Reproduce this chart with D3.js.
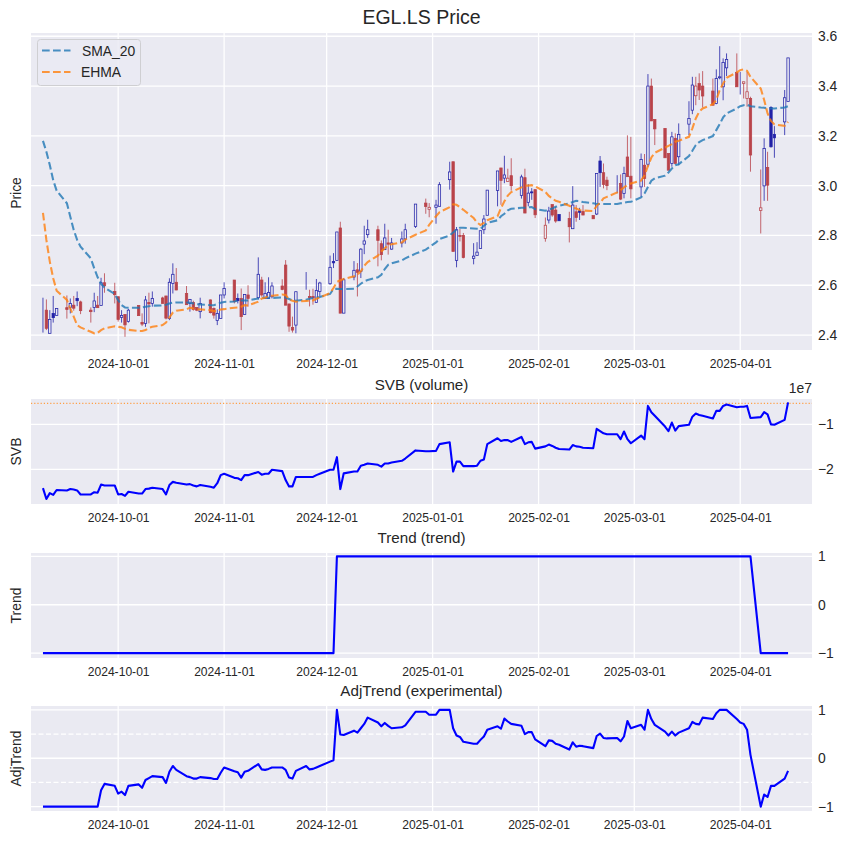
<!DOCTYPE html>
<html><head><meta charset="utf-8">
<style>html,body{margin:0;padding:0;background:#fff}svg{display:block}text{font-family:"Liberation Sans",Arial,sans-serif}</style>
<script src="https://cdn.jsdelivr.net/npm/d3@7/dist/d3.min.js"></script>
</head><body>
<script>
const holidays = ["2024-12-25","2024-12-26","2025-01-01"];
const firstDay = "2024-09-09", lastDay = "2025-04-15";
const monthTicks = ["2024-10-01","2024-11-01","2024-12-01","2025-01-01","2025-02-01","2025-03-01","2025-04-01"];

const opens = [2.50,2.50,2.407,2.487,2.479,2.51,2.511,2.52,2.547,2.533,2.50,2.511,2.52,2.519,2.61,2.575,2.554,2.471,2.483,2.454,
2.519,2.451,2.447,2.531,2.527,2.549,2.557,2.467,2.607,2.612,2.567,2.527,2.531,2.511,2.494,2.541,2.507,2.458,2.467,2.561,
2.621,2.547,2.547,2.483,2.561,2.55,2.621,2.547,2.547,2.554,2.597,2.681,2.525,2.43,2.44,2.595,2.555,2.555,2.531,2.575,
2.606,2.695,2.70,2.83,2.488,2.633,2.662,2.656,2.765,2.803,2.823,2.767,2.743,2.77,2.745,2.77,2.786,2.836,2.93,2.905,
2.913,2.917,3.024,3.096,2.70,2.80,2.80,2.708,2.72,2.748,2.823,2.881,2.981,3.071,3.03,3.017,3.04,2.961,3.032,2.933,2.975,2.984,
2.788,2.862,2.924,2.902,2.884,2.868,2.827,2.895,2.899,2.896,2.88,2.886,3.099,3.052,3.022,3.009,3.009,2.969,3.115,3.038,
2.995,3.082,3.086,3.40,3.266,3.23,3.129,3.089,3.19,3.116,3.247,3.303,3.361,3.41,3.40,3.38,3.33,3.433,3.397,3.473,
3.455,3.421,3.41,3.35,3.35,2.90,2.999,3.073,3.314,3.206,3.256,3.338];
const highs = [2.55,2.543,2.50,2.557,2.507,2.559,2.547,2.557,2.575,2.538,2.511,2.57,2.557,2.63,2.648,2.61,2.554,2.50,2.483,2.505,
2.519,2.487,2.557,2.57,2.575,2.554,2.557,2.628,2.688,2.669,2.597,2.545,2.538,2.511,2.55,2.543,2.511,2.503,2.561,2.612,
2.621,2.567,2.587,2.563,2.60,2.712,2.634,2.612,2.632,2.612,2.624,2.701,2.525,2.474,2.574,2.653,2.582,2.586,2.625,2.614,
2.719,2.729,2.814,2.855,2.629,2.697,2.689,2.749,2.839,2.863,2.839,2.78,2.847,2.823,2.79,2.816,2.847,2.926,2.948,2.93,
2.943,3.014,3.096,3.096,2.834,2.826,2.81,2.769,2.773,2.819,2.882,2.982,3.059,3.071,3.12,3.068,3.11,3.044,3.068,3.006,2.99,2.984,
2.872,2.915,2.924,2.915,2.884,2.895,2.998,2.922,2.911,2.922,2.88,3.049,3.119,3.089,3.036,3.042,3.045,3.076,3.202,3.196,
3.129,3.127,3.448,3.43,3.266,3.23,3.129,3.216,3.21,3.25,3.339,3.437,3.437,3.451,3.46,3.43,3.467,3.56,3.511,3.531,
3.531,3.457,3.417,3.457,3.357,3.065,3.19,3.136,3.319,3.239,3.384,3.513];
const lows = [2.41,2.42,2.407,2.45,2.479,2.466,2.487,2.498,2.516,2.484,2.45,2.492,2.51,2.519,2.57,2.527,2.454,2.45,2.393,2.45,
2.478,2.436,2.433,2.447,2.514,2.527,2.463,2.46,2.567,2.58,2.522,2.494,2.498,2.496,2.467,2.487,2.466,2.44,2.467,2.547,
2.527,2.527,2.42,2.483,2.514,2.543,2.554,2.547,2.547,2.547,2.58,2.52,2.413,2.41,2.407,2.582,2.515,2.522,2.531,2.555,
2.602,2.669,2.70,2.488,2.488,2.62,2.555,2.629,2.725,2.79,2.676,2.70,2.743,2.723,2.743,2.752,2.767,2.83,2.887,2.873,
2.847,2.917,2.984,2.736,2.672,2.776,2.708,2.684,2.72,2.748,2.806,2.881,2.917,2.923,3.01,3.017,2.98,2.948,2.89,2.917,2.943,2.87,
2.775,2.848,2.875,2.851,2.859,2.772,2.827,2.855,2.862,2.882,2.867,2.882,2.995,2.989,2.982,2.969,2.942,2.949,3.036,2.949,
2.955,2.995,3.076,3.26,3.163,3.112,3.062,3.076,3.089,3.082,3.203,3.287,3.323,3.344,3.314,3.323,3.327,3.427,3.343,3.44,
3.397,3.366,3.35,3.317,3.056,2.808,2.939,2.939,3.153,3.112,3.203,3.338];
const closes = [2.50,2.427,2.463,2.47,2.507,2.503,2.527,2.508,2.538,2.498,2.494,2.537,2.51,2.61,2.598,2.562,2.463,2.479,2.441,2.50,
2.478,2.444,2.541,2.525,2.547,2.527,2.468,2.612,2.644,2.581,2.522,2.543,2.503,2.50,2.527,2.49,2.48,2.487,2.561,2.587,
2.534,2.538,2.474,2.563,2.547,2.644,2.561,2.567,2.571,2.597,2.583,2.52,2.436,2.42,2.574,2.595,2.55,2.549,2.579,2.609,
2.672,2.69,2.814,2.488,2.622,2.66,2.652,2.745,2.778,2.823,2.78,2.723,2.79,2.765,2.77,2.786,2.823,2.926,2.916,2.913,
2.922,3.004,3.055,2.736,2.823,2.796,2.711,2.717,2.733,2.819,2.866,2.982,3.059,3.021,3.043,3.03,3.0,3.035,2.89,2.97,2.971,2.883,
2.841,2.898,2.882,2.858,2.859,2.835,2.922,2.872,2.893,2.882,2.867,3.049,3.052,3.005,3.0,3.009,2.946,3.049,3.036,2.987,
3.105,3.029,3.40,3.26,3.228,3.112,3.062,3.196,3.089,3.206,3.27,3.404,3.40,3.384,3.36,3.323,3.43,3.437,3.495,3.507,
3.397,3.421,3.417,3.377,3.123,2.911,3.149,3.002,3.156,3.192,3.353,3.513];

const sma20 = [3.18,3.136,3.083,3.022,2.98,2.929,2.875,2.822,2.782,2.755,2.708,2.668,2.632,2.605,2.591,2.565,2.54,2.52,2.511,2.51,
2.51,2.511,2.514,2.516,2.518,2.519,2.522,2.527,2.53,2.531,2.531,2.53,2.527,2.524,2.523,2.52,2.52,2.524,2.53,2.533,
2.535,2.538,2.539,2.539,2.539,2.547,2.549,2.55,2.55,2.549,2.551,2.551,2.545,2.539,2.538,2.542,2.546,2.549,2.551,2.553,
2.565,2.585,2.586,2.585,2.585,2.586,2.595,2.606,2.616,2.621,2.632,2.642,2.665,2.682,2.688,2.70,2.708,2.727,2.743,2.753,
2.772,2.786,2.80,2.812,2.824,2.831,2.831,2.828,2.827,2.826,2.839,2.85,2.861,2.877,2.887,2.901,2.907,2.911,2.911,2.913,2.914,2.906,
2.899,2.904,2.908,2.915,2.919,2.929,2.934,2.939,2.938,2.934,2.929,2.926,2.926,2.926,2.926,2.926,2.929,2.931,2.934,2.935,
2.953,2.969,2.995,3.02,3.029,3.04,3.053,3.069,3.082,3.086,3.119,3.14,3.163,3.175,3.183,3.199,3.223,3.247,3.274,3.29,
3.31,3.319,3.323,3.325,3.319,3.314,3.313,3.31,3.31,3.31,3.314,3.319];
const ehma = [2.891,2.782,2.695,2.628,2.578,2.541,2.507,2.474,2.44,2.431,2.413,2.407,2.409,2.42,2.427,2.435,2.433,2.431,2.425,2.421,
2.416,2.416,2.42,2.429,2.433,2.44,2.45,2.471,2.49,2.498,2.503,2.51,2.507,2.503,2.503,2.50,2.496,2.496,2.503,2.504,
2.51,2.511,2.514,2.52,2.519,2.534,2.547,2.55,2.557,2.558,2.563,2.561,2.543,2.538,2.534,2.537,2.538,2.539,2.546,2.55,
2.569,2.589,2.613,2.62,2.625,2.636,2.642,2.656,2.678,2.693,2.719,2.736,2.749,2.761,2.765,2.772,2.783,2.803,2.82,2.843,
2.877,2.893,2.914,2.925,2.923,2.913,2.903,2.87,2.852,2.842,2.85,2.861,2.877,2.91,2.937,2.96,2.974,2.993,3.0,3.0,3.002,2.997,
2.975,2.959,2.949,2.939,2.935,2.919,2.912,2.908,2.902,2.90,2.898,2.919,2.931,2.949,2.955,2.973,2.982,2.993,3.002,3.009,
3.02,3.042,3.078,3.113,3.132,3.153,3.16,3.167,3.176,3.18,3.196,3.23,3.27,3.297,3.31,3.327,3.344,3.384,3.41,3.433,
3.455,3.464,3.467,3.461,3.437,3.39,3.344,3.29,3.26,3.246,3.24,3.256];

const svb = [-2.42,-2.66,-2.53,-2.57,-2.46,-2.47,-2.44,-2.45,-2.47,-2.56,-2.56,-2.51,-2.52,-2.34,-2.36,-2.36,-2.56,-2.55,-2.59,-2.50,
-2.54,-2.54,-2.44,-2.43,-2.41,-2.44,-2.56,-2.35,-2.28,-2.30,-2.34,-2.33,-2.36,-2.38,-2.35,-2.39,-2.41,-2.31,-2.13,-2.10,
-2.19,-2.20,-2.24,-2.13,-2.13,-2.06,-2.12,-2.10,-2.10,-2.01,-2.04,-2.24,-2.38,-2.38,-2.17,-2.17,-2.17,-2.17,-2.13,-2.10,
-2.01,-2.01,-1.73,-2.44,-2.09,-2.05,-2.05,-1.92,-1.90,-1.87,-1.90,-1.94,-1.87,-1.87,-1.85,-1.81,-1.76,-1.58,-1.60,-1.60,
-1.59,-1.44,-1.40,-2.05,-1.83,-1.83,-1.93,-1.93,-1.92,-1.81,-1.78,-1.44,-1.31,-1.37,-1.35,-1.35,-1.39,-1.28,-1.44,-1.40,-1.39,-1.54,
-1.49,-1.45,-1.48,-1.52,-1.55,-1.56,-1.46,-1.49,-1.50,-1.52,-1.53,-1.10,-1.15,-1.20,-1.22,-1.22,-1.33,-1.16,-1.33,-1.42,
-1.25,-1.33,-0.59,-0.73,-0.81,-1.05,-1.15,-0.96,-1.14,-1.04,-1.01,-0.83,-0.76,-0.79,-0.81,-0.87,-0.70,-0.70,-0.59,-0.56,
-0.62,-0.61,-0.61,-0.59,-0.86,-0.84,-0.73,-0.78,-1.00,-1.01,-0.90,-0.51];
const svbLevel = [-0.533];

const trend = [-1,-1,-1,-1,-1,-1,-1,-1,-1,-1,-1,-1,-1,-1,-1,-1,-1,-1,-1,-1,
-1,-1,-1,-1,-1,-1,-1,-1,-1,-1,-1,-1,-1,-1,-1,-1,-1,-1,-1,-1,
-1,-1,-1,-1,-1,-1,-1,-1,-1,-1,-1,-1,-1,-1,-1,-1,-1,-1,-1,-1,
-1,-1,1,1,1,1,1,1,1,1,1,1,1,1,1,1,1,1,1,1,
1,1,1,1,1,1,1,1,1,1,1,1,1,1,1,1,1,1,1,1,1,1,
1,1,1,1,1,1,1,1,1,1,1,1,1,1,1,1,1,1,1,1,
1,1,1,1,1,1,1,1,1,1,1,1,1,1,1,1,1,1,1,1,
1,1,1,1,1,-1,-1,-1,-1,-1,-1,-1];

const adjTrend = [-1,-1,-1,-1,-1,-1,-1,-1,-1,-1,-1,-1,-1,-0.66,-0.53,-0.57,-0.73,-0.69,-0.76,-0.57,
-0.54,-0.61,-0.45,-0.41,-0.37,-0.39,-0.51,-0.28,-0.16,-0.24,-0.37,-0.39,-0.42,-0.42,-0.39,-0.41,-0.43,-0.43,-0.30,-0.19,
-0.27,-0.29,-0.40,-0.28,-0.26,-0.12,-0.23,-0.24,-0.22,-0.19,-0.19,-0.24,-0.40,-0.42,-0.26,-0.16,-0.23,-0.22,-0.19,-0.16,
-0.07,-0.04,1.0,0.49,0.48,0.57,0.53,0.62,0.71,0.84,0.74,0.66,0.73,0.67,0.62,0.64,0.68,0.96,0.96,0.90,
0.90,1.0,1.0,0.62,0.47,0.44,0.34,0.30,0.30,0.38,0.45,0.59,0.66,0.61,0.82,0.76,0.71,0.67,0.50,0.54,0.54,0.39,
0.25,0.37,0.36,0.30,0.28,0.18,0.33,0.24,0.26,0.25,0.21,0.46,0.51,0.42,0.41,0.42,0.35,0.45,0.77,0.62,
0.69,0.59,1.0,0.81,0.69,0.55,0.47,0.55,0.47,0.53,0.62,0.75,0.71,0.70,0.84,0.81,0.93,1.0,1.0,1.0,
0.81,0.74,0.71,0.59,0.07,-1.0,-0.75,-0.80,-0.57,-0.57,-0.42,-0.26];

const priceTicks = [2.4,2.6,2.8,3.0,3.2,3.4,3.6];
const svbTicks = [-2,-1];
const unitTicks = [-1,0,1];
const adjLevels = [-0.5,0.5];
const legendLabels = ["SMA_20","EHMA"];

const parse = d3.utcParse("%Y-%m-%d");
const dates = d3.utcDay.range(parse(firstDay), d3.utcDay.offset(parse(lastDay),1))
  .filter(d => d.getUTCDay()%6!==0 && !holidays.includes(d3.utcFormat("%Y-%m-%d")(d)));

const W=846,H=843,L=31,R=812;
const bg="#EAEAF2",ink="#262626",lineBlue="#0000ff";
const upCol="#2222a8",dnCol="#b9434a",smaCol="#1f77b4",ehCol="#ff7f0e";
const dashPattern="7.7 3.3";

const x=d3.scaleUtc().domain([new Date(Date.UTC(2024,8,5,12)),new Date(Date.UTC(2025,3,22))]).range([L,R]);
const svg=d3.select("body").append("svg").attr("width",W).attr("height",H).attr("viewBox",`0 0 ${W} ${H}`);
const fmtNum=d3.format(".1f");
const fmtInt=d=>String(d).replace("-","\u2212");
const fontStack='"Liberation Sans",Arial,sans-serif';

function panel(o){
  const g=svg.append("g");
  g.append("rect").attr("x",L).attr("y",o.top).attr("width",R-L).attr("height",o.bottom-o.top).attr("fill",bg);
  const y=d3.scaleLinear().domain(o.domain).range([o.bottom,o.top]);
  g.selectAll("line.vg").data(monthTicks).join("line").attr("class","vg")
    .attr("x1",d=>x(parse(d))).attr("x2",d=>x(parse(d))).attr("y1",o.top).attr("y2",o.bottom)
    .attr("stroke","#fff").attr("stroke-width",1.3);
  g.selectAll("line.hg").data(o.ticks).join("line").attr("class","hg")
    .attr("x1",L).attr("x2",R).attr("y1",d=>y(d)).attr("y2",d=>y(d))
    .attr("stroke","#fff").attr("stroke-width",1.3);
  const xa=g.append("g").attr("transform",`translate(0,${o.bottom})`)
    .call(d3.axisBottom(x).tickValues(monthTicks.map(parse)).tickFormat(d3.utcFormat("%Y-%m-%d")).tickSize(0).tickPadding(9.5));
  xa.select(".domain").remove();
  xa.selectAll("text").attr("font-size",12.1).attr("fill",ink).attr("font-family",fontStack);
  const ya=g.append("g").attr("transform",`translate(${R},0)`)
    .call(d3.axisRight(y).tickValues(o.ticks).tickFormat(o.fmt).tickSize(0).tickPadding(6));
  ya.select(".domain").remove();
  ya.selectAll("text").attr("font-size",13.9).attr("fill",ink).attr("font-family",fontStack);
  g.append("text").attr("transform",`translate(20.5,${(o.top+o.bottom)/2+(o.labelDy||0)}) rotate(-90)`)
    .attr("text-anchor","middle").attr("font-size",13.9).attr("fill",ink).text(o.label);
  g.append("text").attr("x",(L+R)/2).attr("y",o.top-o.titleGap).attr("text-anchor","middle")
    .attr("font-size",o.titleSize).attr("fill",ink).text(o.title);
  const inner=g.append("g");
  return {y,inner};
}
function blueLine(p,vals){
  const line=d3.line().x((d,i)=>x(dates[i])).y(d=>p.y(d));
  p.inner.append("path").attr("d",line(vals)).attr("fill","none").attr("stroke",lineBlue)
    .attr("stroke-width",2.1).attr("stroke-linejoin","round").attr("stroke-linecap","butt");
}

// Price
const pPrice=panel({top:33,bottom:350,domain:[2.34,3.613],ticks:priceTicks,fmt:fmtNum,label:"Price",labelDy:1.5,
  title:"EGL.LS Price",titleGap:9.5,titleSize:19.5});
const rows=dates.map((d,i)=>({d,o:opens[i],h:highs[i],l:lows[i],c:closes[i],prev:i?closes[i-1]:closes[i]}));
const col=r=>r.c>=r.prev?upCol:dnCol;
const cg=pPrice.inner.selectAll("g.c").data(rows).join("g").attr("class","c");
cg.append("line").attr("x1",r=>x(r.d)).attr("x2",r=>x(r.d)).attr("y1",r=>pPrice.y(r.h)).attr("y2",r=>pPrice.y(r.l))
  .attr("stroke",col).attr("stroke-width",0.8);
cg.append("rect").attr("x",r=>x(r.d)-1.2).attr("width",2.4)
  .attr("y",r=>pPrice.y(Math.max(r.o,r.c))).attr("height",r=>Math.abs(pPrice.y(r.o)-pPrice.y(r.c)))
  .attr("fill",r=>r.c>r.o?bg:col(r)).attr("stroke",col).attr("stroke-width",0.75);
const lp=d3.line().x((d,i)=>x(dates[i])).y(d=>pPrice.y(d));
[[sma20,smaCol],[ehma,ehCol]].forEach(([v,c])=>{
  pPrice.inner.append("path").attr("d",lp(v)).attr("fill","none").attr("stroke",c).attr("stroke-opacity",.8)
    .attr("stroke-width",2.08).attr("stroke-dasharray",dashPattern);
});
// Legend
const lg=svg.append("g");
lg.append("rect").attr("x",37.5).attr("y",39.5).attr("width",103).attr("height",46).attr("rx",3)
  .attr("fill",bg).attr("fill-opacity",.8).attr("stroke","#cfcfd2").attr("stroke-width",1);
legendLabels.forEach((t,i)=>{
  const yy=50.5+i*21.5;
  lg.append("line").attr("x1",42).attr("x2",70.5).attr("y1",yy).attr("y2",yy)
    .attr("stroke",[smaCol,ehCol][i]).attr("stroke-opacity",.8).attr("stroke-width",2.08).attr("stroke-dasharray",dashPattern);
  lg.append("text").attr("x",i?81:82).attr("y",yy+5).attr("font-size",13.9).attr("fill",ink).text(t);
});

// SVB
const pSvb=panel({top:399,bottom:504,domain:[-2.772,-0.436],ticks:svbTicks,fmt:fmtInt,label:"SVB",
  title:"SVB (volume)",titleGap:9.5,titleSize:15.2});
pSvb.inner.selectAll("line").data(svbLevel).join("line").attr("x1",L).attr("x2",R)
  .attr("y1",d=>pSvb.y(d)).attr("y2",d=>pSvb.y(d)).attr("stroke","#ff9f45").attr("stroke-width",1.1).attr("stroke-dasharray","1.2 2");
blueLine(pSvb,svb);
svg.append("text").attr("x",R).attr("y",393).attr("text-anchor","end").attr("font-size",13.9).attr("fill",ink).text("1e7");

// Trend
const pTrend=panel({top:553,bottom:658,domain:[-1.1,1.07],ticks:unitTicks,fmt:fmtInt,label:"Trend",
  title:"Trend (trend)",titleGap:10.5,titleSize:15.2});
blueLine(pTrend,trend);

// AdjTrend
const pAdj=panel({top:706,bottom:811,domain:[-1.09,1.08],ticks:unitTicks,fmt:fmtInt,label:"AdjTrend",
  title:"AdjTrend (experimental)",titleGap:10.5,titleSize:15.2});
pAdj.inner.selectAll("line").data(adjLevels).join("line").attr("x1",L).attr("x2",R)
  .attr("y1",d=>pAdj.y(d)).attr("y2",d=>pAdj.y(d)).attr("stroke","#fff").attr("stroke-width",1.3).attr("stroke-dasharray","5 2.5");
blueLine(pAdj,adjTrend);
</script>
</body></html>
